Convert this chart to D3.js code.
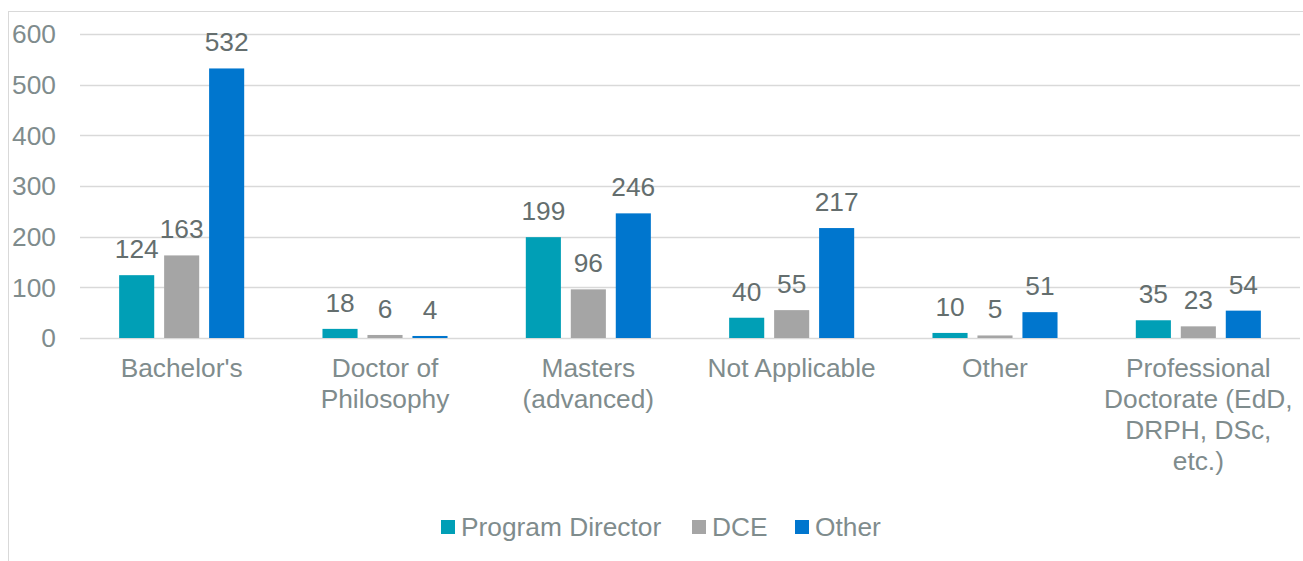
<!DOCTYPE html>
<html>
<head>
<meta charset="utf-8">
<script src="https://cdn.jsdelivr.net/npm/d3@7"></script>
<style>
  body { margin: 0; background: #fff; }
  svg { display: block; font-family: "Liberation Sans", Arial, sans-serif; }
</style>
</head>
<body>
<svg id="chart" width="1303" height="561"></svg>
<script>
// Data
const categories = [
  ["Bachelor's"],
  ["Doctor of", "Philosophy"],
  ["Masters", "(advanced)"],
  ["Not Applicable"],
  ["Other"],
  ["Professional", "Doctorate (EdD,", "DRPH, DSc,", "etc.)"]
];
const seriesNames = ["Program Director", "DCE", "Other"];
const programDirector = [124, 18, 199, 40, 10, 35];
const dce = [163, 6, 96, 55, 5, 23];
const other = [532, 4, 246, 217, 51, 54];
const yTicks = [0, 100, 200, 300, 400, 500, 600];
const colors = ["#009fb6", "#a5a5a5", "#0076ce"];

const series = [programDirector, dce, other];
const width = 1303, height = 561;
const margin = { left: 80, right: 3, top: 34, bottom: 223 };
const fontSize = '26.3px';

const svg = d3.select('#chart');

// Outer chart border
svg.append('rect')
    .attr('x', 8.5).attr('y', 11.5)
    .attr('width', 1310).attr('height', 600)
    .attr('fill', 'none')
    .attr('stroke', '#d9d9d9');

const x = d3.scaleBand()
    .domain(d3.range(categories.length))
    .range([margin.left, width - margin.right])
    .paddingInner(0.385)
    .paddingOuter(0.1925);

const xs = d3.scaleBand()
    .domain(d3.range(series.length))
    .range([0, x.bandwidth()])
    .paddingInner(0.22);

const y = d3.scaleLinear()
    .domain([0, 600])
    .range([height - margin.bottom, margin.top]);

// Gridlines
svg.append('g')
    .selectAll('line')
    .data(yTicks)
    .join('line')
    .attr('x1', margin.left)
    .attr('x2', width - margin.right)
    .attr('y1', d => Math.round(y(d)) + 0.5)
    .attr('y2', d => Math.round(y(d)) + 0.5)
    .attr('stroke', '#d9d9d9')
    .attr('stroke-width', 1.3);

// Y tick labels
svg.append('g')
    .selectAll('text')
    .data(yTicks)
    .join('text')
    .attr('x', 56)
    .attr('y', d => y(d))
    .attr('dy', '0.35em')
    .attr('text-anchor', 'end')
    .attr('fill', '#7f8c8d')
    .style('font-size', fontSize)
    .text(d => d);

// Bars and value labels
const groups = svg.append('g')
    .selectAll('g')
    .data(categories)
    .join('g')
    .attr('transform', (d, i) => `translate(${x(i)},0)`);

groups.selectAll('rect')
    .data((d, i) => series.map((s, j) => ({ j, v: s[i] })))
    .join('rect')
    .attr('x', d => xs(d.j))
    .attr('y', d => y(d.v))
    .attr('width', xs.bandwidth())
    .attr('height', d => y(0) - y(d.v))
    .attr('fill', d => colors[d.j]);

groups.selectAll('text.val')
    .data((d, i) => series.map((s, j) => ({ j, v: s[i] })))
    .join('text')
    .attr('class', 'val')
    .attr('x', d => xs(d.j) + xs.bandwidth() / 2)
    .attr('y', d => y(d.v) - 17)
    .attr('text-anchor', 'middle')
    .attr('fill', '#646e6e')
    .style('font-size', fontSize)
    .text(d => d.v);

// Category labels
const catLabels = svg.append('g')
    .selectAll('text')
    .data(categories)
    .join('text')
    .attr('x', (d, i) => x(i) + x.bandwidth() / 2)
    .attr('y', 377)
    .attr('text-anchor', 'middle')
    .attr('fill', '#7f8c8d')
    .style('font-size', fontSize);

catLabels.selectAll('tspan')
    .data(d => d)
    .join('tspan')
    .attr('x', function () { return d3.select(this.parentNode).attr('x'); })
    .attr('dy', (d, i) => i === 0 ? 0 : 31)
    .text(d => d);

// Legend
const legendX = [441, 692, 795];
const legend = svg.append('g')
    .selectAll('g')
    .data(seriesNames)
    .join('g')
    .attr('transform', (d, i) => `translate(${legendX[i]},520)`);

legend.append('rect')
    .attr('width', 14).attr('height', 14)
    .attr('fill', (d, i) => colors[i]);

legend.append('text')
    .attr('x', 20)
    .attr('y', 7)
    .attr('dy', '0.35em')
    .attr('fill', '#7f8c8d')
    .style('font-size', fontSize)
    .text(d => d);
</script>
</body>
</html>
